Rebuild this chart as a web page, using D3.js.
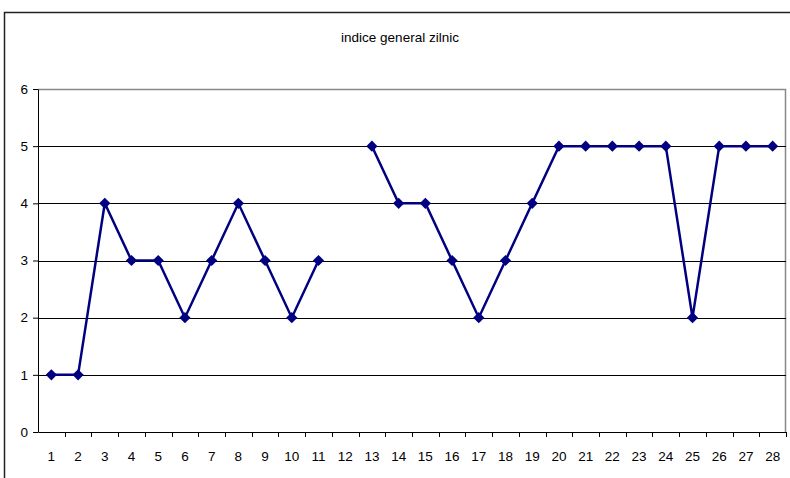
<!DOCTYPE html>
<html>
<head>
<meta charset="utf-8">
<script src="https://cdn.jsdelivr.net/npm/d3@7"></script>
<style>
  body { margin: 0; background: #fff; }
  svg { display: block; font-family: "Liberation Sans", Arial, sans-serif; }
</style>
</head>
<body>
<div id="chart"></div>
<script>
// Data (day 12 has no value)
const days = d3.range(1, 29).map(String);
const values = [1, 1, 4, 3, 3, 2, 3, 4, 3, 2, 3, null, 5, 4, 4, 3, 2, 3, 4, 5, 5, 5, 5, 5, 2, 5, 5, 5];
const yTicks = [0, 1, 2, 3, 4, 5, 6];
const title = "indice general zilnic";

const width = 790, height = 478;
const margin = { top: 89, right: 4, bottom: 46, left: 38 };
const fontSize = "13.5px";

const svg = d3.select("#chart")
  .append("svg")
  .attr("width", width)
  .attr("height", height);

// outer chart frame, runs off the right and bottom edges
svg.append("rect")
  .attr("x", 4.5).attr("y", 12.5)
  .attr("width", width + 10).attr("height", height + 10)
  .attr("fill", "none")
  .attr("stroke", "#222")
  .attr("stroke-width", 1.5);

svg.append("text")
  .attr("x", 400).attr("y", 42)
  .attr("text-anchor", "middle")
  .style("font-size", fontSize)
  .text(title);

const x = d3.scaleBand()
  .domain(days)
  .range([margin.left, width - margin.right]);

const y = d3.scaleLinear()
  .domain([0, 6])
  .range([height - margin.bottom, margin.top]);

// plot area border (grey on top and right)
svg.append("path")
  .attr("d", `M${margin.left},${margin.top + 0.5}H${width - margin.right - 0.5}V${height - margin.bottom}`)
  .attr("fill", "none")
  .attr("stroke", "#888")
  .attr("stroke-width", 1.5);

// horizontal gridlines
svg.append("g")
  .selectAll("line")
  .data(yTicks.filter(d => d > 0 && d < 6))
  .enter()
  .append("line")
  .attr("x1", margin.left)
  .attr("x2", width - margin.right)
  .attr("y1", d => Math.round(y(d)) + 0.5)
  .attr("y2", d => Math.round(y(d)) + 0.5)
  .attr("stroke", "#000")
  .attr("stroke-width", 1);

// y axis
const yAxis = svg.append("g")
  .attr("transform", `translate(${margin.left},0)`)
  .call(d3.axisLeft(y).tickValues(yTicks).tickFormat(d3.format("d"))
    .tickSize(5).tickPadding(5).tickSizeOuter(0));
yAxis.select(".domain").attr("stroke", "#000");
yAxis.selectAll("text").style("font-size", fontSize).style("font-family", "Liberation Sans, Arial, sans-serif").attr("fill", "#000");

// x axis: ticks at category boundaries
const xAxis = svg.append("g")
  .attr("transform", `translate(0,${height - margin.bottom})`)
  .call(d3.axisBottom(x).tickSize(0).tickPadding(19).tickSizeOuter(0));
xAxis.select(".domain").attr("stroke", "#000");
xAxis.selectAll("text").style("font-size", fontSize).style("font-family", "Liberation Sans, Arial, sans-serif").attr("fill", "#000");

svg.append("g")
  .selectAll("line")
  .data(days)
  .enter()
  .append("line")
  .attr("x1", d => Math.round(x(d) + x.bandwidth()) + 0.5)
  .attr("x2", d => Math.round(x(d) + x.bandwidth()) + 0.5)
  .attr("y1", height - margin.bottom)
  .attr("y2", height - margin.bottom + 5)
  .attr("stroke", "#000");

const cx = (d, i) => x(days[i]) + x.bandwidth() / 2;

const line = d3.line()
  .defined(d => d !== null)
  .x(cx)
  .y(d => y(d));

svg.append("path")
  .datum(values)
  .attr("d", line)
  .attr("fill", "none")
  .attr("stroke", "#000080")
  .attr("stroke-width", 2.5);

const diamond = d3.symbol().type(d3.symbolDiamond2).size(80);

svg.append("g")
  .selectAll("path")
  .data(values.map((v, i) => ({ v, i })).filter(d => d.v !== null))
  .enter()
  .append("path")
  .attr("d", diamond)
  .attr("transform", d => `translate(${cx(d.v, d.i)},${y(d.v)})`)
  .attr("fill", "#000080");
</script>
</body>
</html>
